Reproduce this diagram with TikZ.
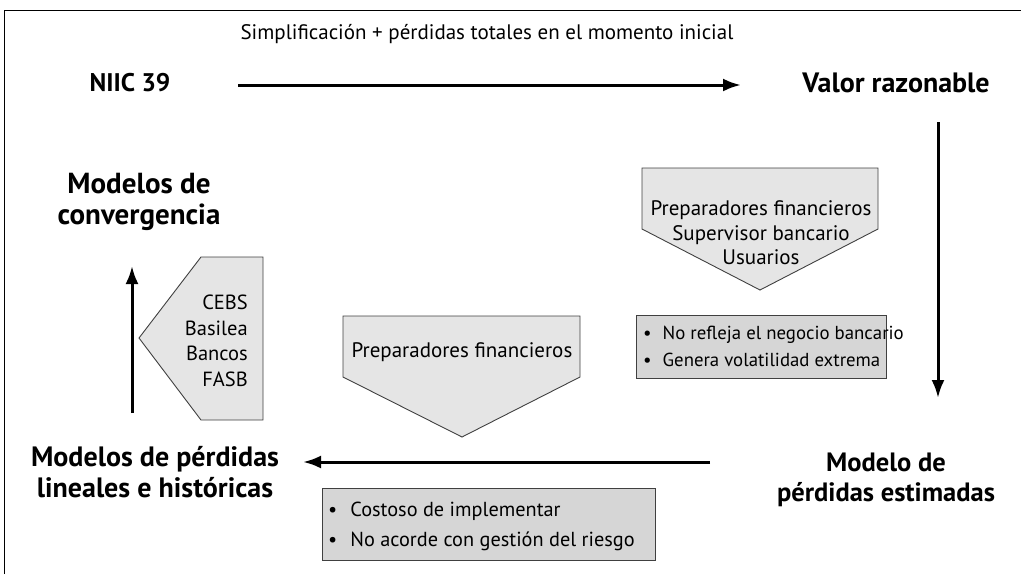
\documentclass[tikz,border=0pt]{standalone}
\usepackage{fontspec}
\setmainfont{PT Sans}
\usetikzlibrary{arrows.meta}
\begin{document}
\begin{tikzpicture}[x=1pt,y=-1pt,
  lab/.style={font=\bfseries\fontsize{28}{31}\selectfont,align=center,inner sep=0pt},
  reg/.style={font=\fontsize{21}{24.5}\selectfont,inner sep=0pt},
  arr/.style={line width=3pt,-{Latex[length=18pt,width=13pt]}},
  shp/.style={draw=black!75,line width=0.9pt,fill=black!10},
  boxs/.style={draw=black!75,line width=0.9pt,fill=black!16,inner sep=0pt}]
\useasboundingbox (0,0) rectangle (1021,574);
\draw[line width=1pt] (4,574) -- (4,10) -- (1021,10);
% titles
\node[reg] (top) at (487,34) {Simplificación + pérdidas totales en el momento inicial};
\node[lab,font=\bfseries\fontsize{25.5}{31}\selectfont] (niic) at (130,83) {NIIC 39};
\node[lab] (valor) at (896,83) {Valor razonable};
\node[lab,font=\bfseries\fontsize{29}{31}\selectfont] (conv) at (139,202) {Modelos de\\convergencia};
\node[lab,font=\bfseries\fontsize{28}{31}\selectfont] (lin) at (155,472) {Modelos de pérdidas\\lineales e históricas};
\node[lab,font=\bfseries\fontsize{26.5}{30}\selectfont] (est) at (886,480) {Modelo de\\pérdidas estimadas};
% arrows
\coordinate (a1s) at (238,85); \coordinate (a1e) at (741,85);
\coordinate (a2s) at (938,122); \coordinate (a2e) at (938,398);
\coordinate (a3s) at (710,462); \coordinate (a3e) at (303,462);
\coordinate (a4s) at (132,413); \coordinate (a4e) at (132,266);
\draw[arr] (a1s) -- (a1e);
\draw[arr] (a2s) -- (a2e);
\draw[arr] (a3s) -- (a3e);
\draw[arr] (a4s) -- (a4e);
% pentagon right
\draw[shp] (642,168) -- (878,168) -- (878,229) -- (760,290) -- (642,229) -- cycle;
\node[reg,align=center] (p1) at (761,233) {Preparadores financieros\\Supervisor bancario\\Usuarios};
% pentagon middle
\draw[shp] (343,316) -- (580,316) -- (580,377) -- (462,437) -- (343,377) -- cycle;
\node[reg] (p2) at (462,352) {Preparadores financieros};
% pentagon left
\draw[shp] (201,257) -- (263,257) -- (263,420) -- (201,420) -- (139,338) -- cycle;
\node[reg,align=right,anchor=east,font=\fontsize{20.5}{25.5}\selectfont] (p3) at (248,341) {CEBS\\Basilea\\Bancos\\FASB};
% boxes
\node[boxs,minimum width=250pt,minimum height=63pt,anchor=north west] (b1) at (636,315) {};
\node[reg,anchor=west,align=left,font=\fontsize{18.8}{27}\selectfont] (b1t) at (643,346) {•\hspace{11pt}No refleja el negocio bancario\\•\hspace{11pt}Genera volatilidad extrema};
\node[boxs,minimum width=333pt,minimum height=72pt,anchor=north west] (b2) at (322,488) {};
\node[reg,anchor=west,align=left,font=\fontsize{20.3}{30}\selectfont] (b2t) at (328,526) {•\hspace{13pt}Costoso de implementar\\•\hspace{13pt}No acorde con gestión del riesgo};
\end{tikzpicture}
\end{document}
